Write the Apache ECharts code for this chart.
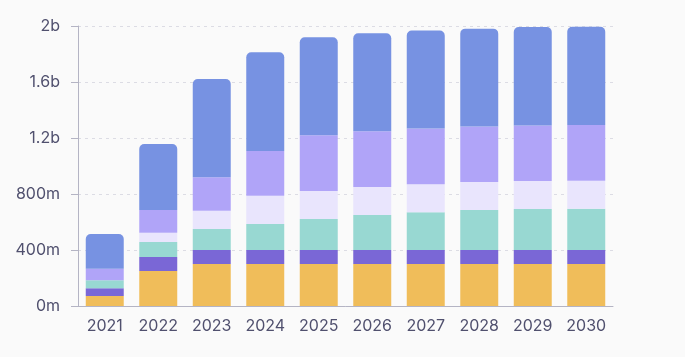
<!DOCTYPE html>
<html><head><meta charset="utf-8">
<script src="https://cdn.jsdelivr.net/npm/echarts@6/dist/echarts.min.js"></script>
<style>html,body{margin:0;padding:0;background:#fafafa}#c{width:685px;height:357px}</style>
</head><body><div id="c"></div>
<script>
const categories = ['2021','2022','2023','2024','2025','2026','2027','2028','2029','2030'];
// values in millions
const seriesA = [72, 250, 300, 300, 300, 300, 300, 300, 300, 300];   // yellow
const seriesB = [55, 100, 100, 100, 100, 100, 100, 100, 100, 100];   // dark purple
const seriesC = [57, 107, 150, 186, 221, 250, 269, 286, 293, 295];   // teal
const seriesD = [0, 67, 131, 202, 200, 200, 200, 200, 200, 200];     // pale lavender
const seriesE = [82, 162, 238, 320, 398, 398, 398, 397, 397, 397];   // lavender
const seriesF = [248, 471, 702, 705, 700, 700, 700, 698, 703, 703];  // blue
const colors = ['#f0bd5a', '#7a67d6', '#98d8d2', '#e9e5fd', '#b0a4f8', '#7792e2'];
const all = [seriesA, seriesB, seriesC, seriesD, seriesE, seriesF];

const chart = echarts.init(document.getElementById('c'), null, {renderer: 'canvas'});
const fmt = v => {
  if (v >= 1e9) return (v / 1e9) + 'b';
  return (v / 1e6) + 'm';
};
chart.setOption({
  backgroundColor: '#fafafa',
  animation: false,
  grid: {left: 78, right: 72, top: 26, bottom: 51},
  xAxis: {
    type: 'category', data: categories,
    axisLine: {lineStyle: {color: '#b4b4c4', width: 1}},
    axisTick: {show: false},
    axisLabel: {color: '#50506e', fontSize: 16, fontFamily: 'Inter', margin: 12}
  },
  yAxis: {
    type: 'value', min: 0, max: 2e9, interval: 4e8,
    axisLine: {show: true, lineStyle: {color: '#b4b4c4'}},
    axisTick: {show: true, length: 7, lineStyle: {color: '#b4b4c4'}},
    splitLine: {lineStyle: {color: '#dcdce4', type: [3, 4]}},
    axisLabel: {color: '#50506e', fontSize: 16, fontFamily: 'Inter', margin: 18, formatter: fmt}
  },
  series: all.map((arr, i) => ({
    type: 'bar', stack: 'total', barWidth: '71%',
    data: arr.map(v => v * 1e6),
    itemStyle: {color: colors[i], borderRadius: i === all.length - 1 ? [5, 5, 0, 0] : 0},
    emphasis: {disabled: true}
  }))
});
</script></body></html>
